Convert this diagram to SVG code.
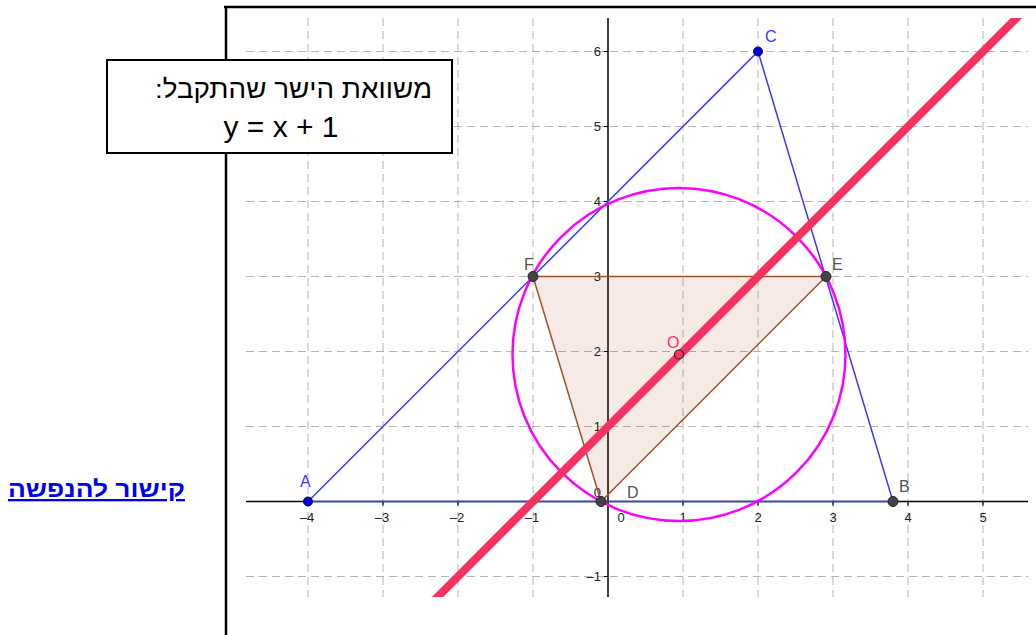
<svg xmlns="http://www.w3.org/2000/svg" width="1036" height="635" viewBox="0 0 1036 635">
<style>
.grid{stroke:#b4b4b4;stroke-width:1;stroke-dasharray:8 5;fill:none}
.axis{stroke:#000;stroke-width:1.5;fill:none}
.tick{stroke:#000;stroke-width:1.2}
.tl{font-family:"Liberation Sans","DejaVu Sans",sans-serif;font-size:13px;fill:#222}
.lbl{font-family:"Liberation Sans","DejaVu Sans",sans-serif;font-size:16px}
.pt{fill:#444;stroke:#222;stroke-width:1}
.ptb{fill:#0000e6;stroke:#111;stroke-width:1}
.tri{fill:none;stroke:#3a3aff;stroke-width:1.5}
</style>
<defs>
<clipPath id="view"><rect x="246" y="18" width="782" height="579"/></clipPath>
</defs>
<rect width="1036" height="635" fill="#fff"/>
<g id="frame">
<line x1="224" y1="7" x2="1036" y2="7" stroke="#000" stroke-width="2.5"/>
<line x1="226" y1="6" x2="226" y2="635" stroke="#000" stroke-width="2.5"/>
</g>
<g id="grid">
<path class="grid" d="M308 18V597M383 18V597M458 18V597M533 18V597M683 18V597M758 18V597M833 18V597M908 18V597M983 18V597"/>
<path class="grid" d="M246 51.5H1028M246 126.5H1028M246 201.5H1028M246 276.5H1028M246 351.5H1028M246 426.5H1028M246 576.5H1028"/>
</g>
<g id="axes">
<line class="axis" x1="246" y1="501.5" x2="1028" y2="501.5"/>
<line class="axis" x1="608" y1="18" x2="608" y2="597"/>
<path class="tick" d="M308 501.5v4M383 501.5v4M458 501.5v4M533 501.5v4M683 501.5v4M758 501.5v4M833 501.5v4M908 501.5v4M983 501.5v4M604 51.5h4M604 126.5h4M604 201.5h4M604 276.5h4M604 351.5h4M604 426.5h4M604 576.5h4"/>
<g class="tl" text-anchor="middle">
<text x="307" y="522">–4</text>
<text x="382" y="522">–3</text>
<text x="457" y="522">–2</text>
<text x="532" y="522">–1</text>
<text x="621" y="522">0</text>
<text x="683" y="522">1</text>
<text x="758" y="522">2</text>
<text x="833" y="522">3</text>
<text x="908" y="522">4</text>
<text x="983" y="522">5</text>
</g>
<g class="tl" text-anchor="end">
<text x="601" y="56">6</text>
<text x="601" y="131">5</text>
<text x="601" y="206">4</text>
<text x="601" y="281">3</text>
<text x="601" y="356">2</text>
<text x="601" y="431">1</text>
<text x="601" y="497">0</text>
<text x="601" y="581">–1</text>
</g>
</g>
<g id="triangle-DEF">
<polygon points="533,276.5 826,276.5 601,501.5" fill="#993300" fill-opacity="0.1" stroke="#a0522d" stroke-width="1.5"/>
</g>
<g id="triangle-ABC">
<polygon class="tri" points="308,501.5 893,501.5 758,51.5"/>
</g>
<g id="circle">
<circle cx="679" cy="354.5" r="166.5" fill="none" stroke="#ff00ff" stroke-width="2.5"/>
</g>
<g id="line-y-x-1" clip-path="url(#view)">
<line x1="420" y1="614.5" x2="1040" y2="-5.5" stroke="#f5325f" stroke-width="8"/>
</g>
<g id="point-A"><circle class="ptb" cx="308" cy="501.5" r="4.5"/><text class="lbl" x="300" y="487" fill="#3a3aff">A</text></g>
<g id="point-B"><circle class="pt" cx="893" cy="501.5" r="5"/><text class="lbl" x="899" y="492" fill="#555">B</text></g>
<g id="point-C"><circle class="ptb" cx="758" cy="51.5" r="4.5"/><text class="lbl" x="765" y="42" fill="#3a3aff">C</text></g>
<g id="point-D"><circle class="pt" cx="601" cy="501.5" r="5"/><text class="lbl" x="627" y="498" fill="#555">D</text></g>
<g id="point-E"><circle class="pt" cx="826" cy="276.5" r="5"/><text class="lbl" x="832" y="270" fill="#555">E</text></g>
<g id="point-F"><circle class="pt" cx="533" cy="276.5" r="5"/><text class="lbl" x="524" y="270" fill="#555">F</text></g>
<g id="point-O"><circle cx="679" cy="354.5" r="4.5" fill="#ff3366" stroke="#222" stroke-width="1.2"/><text class="lbl" x="667" y="348" fill="#ff3366">O</text></g>
<g id="equation-box">
<rect x="107" y="60" width="345" height="93" fill="#fff" stroke="#000" stroke-width="2"/>
<text x="432" y="98" direction="rtl" text-anchor="start" font-family="Liberation Sans, DejaVu Sans, sans-serif" font-size="26" fill="#000" textLength="277" lengthAdjust="spacingAndGlyphs">משוואת הישר שהתקבל:</text>
<text x="281" y="137" text-anchor="middle" font-family="Liberation Sans, DejaVu Sans, sans-serif" font-size="30" fill="#000">y = x + 1</text>
</g>
<g id="link">
<text x="185" y="497" direction="rtl" text-anchor="start" font-family="Liberation Sans, DejaVu Sans, sans-serif" font-size="23" font-weight="bold" fill="#0000ee" text-decoration="underline" textLength="177" lengthAdjust="spacingAndGlyphs">קישור להנפשה</text>
</g>
</svg>
